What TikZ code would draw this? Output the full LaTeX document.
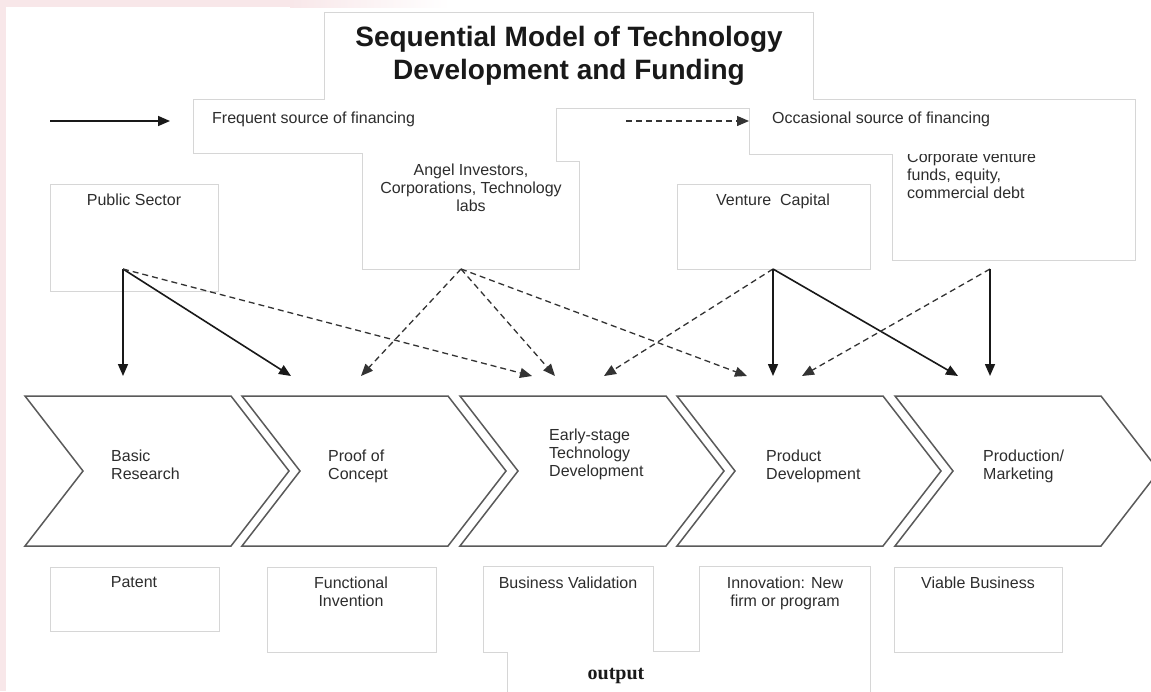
\documentclass[tikz,border=0pt]{standalone}
\usepackage{fontspec}
\setmainfont{Liberation Sans}
\newfontfamily\serifbold{Liberation Serif}
\usetikzlibrary{arrows.meta}

\definecolor{pinkbg}{RGB}{248,231,233}
\definecolor{boxgray}{RGB}{214,214,214}
\definecolor{textgray}{RGB}{45,45,45}
\definecolor{chevgray}{RGB}{90,90,90}

\begin{document}
\begin{tikzpicture}[
        x=1pt, y=-1pt,
        box/.style={
            draw=boxgray,
            line width=1pt,
            fill=white,
        },
        merged/.style={
            draw=boxgray,
            line width=2pt,
        },
        txt/.style={
            font=\fontsize{16}{18}\selectfont,
            text=textgray,
            inner sep=0pt,
        },
        chevron/.style={
            draw=chevgray,
            line width=1.5pt,
            fill=white,
            line join=miter,
        },
        frequent/.style={
            draw=black!90,
            line width=1.6pt,
            -{Triangle[length=12pt,width=10pt]},
        },
        occasional/.style={
            draw=black!80,
            line width=1.3pt,
            dash pattern=on 6pt off 4pt,
            -{Triangle[length=12pt,width=10pt]},
        },
    ]

    \useasboundingbox (0,0) rectangle (1151,691);
    \fill[white] (0,0) rectangle (1151,691);

    % slide background
    \fill[pinkbg] (0,0) rectangle (6,691);
    \fill[pinkbg] (0,0) rectangle (290,7);
    \shade[left color=pinkbg, right color=white] (290,0) rectangle (450,7);

    % top boxes: outlines first, white fills after so they read as one shape
    \draw[merged] (325,13) rectangle (813,100);
    \draw[merged] (194,100) rectangle (749,153);
    \draw[merged] (749,100) rectangle (1135,154);
    \draw[merged] (363,153) rectangle (579,269);
    \draw[merged] (893,154) rectangle (1135,260);
    \fill[white] (325,13) rectangle (813,100);
    \fill[white] (194,100) rectangle (749,153);
    \fill[white] (363,153) rectangle (579,269);
    \fill[white] (893,154) rectangle (1135,260);
    \node (corp) at (907,151.4) [txt, anchor=north west, align=left]
        {Corporate venture\\funds, equity,\\commercial debt};
    \fill[white] (749,100) rectangle (1135,154);
    % box behind the dashed legend arrow
    \fill[white] (556,108) rectangle (749,161);
    \draw[boxgray, line width=1pt] (579,161) -- (556,161) -- (556,108) -- (749,108) -- (749,154);

    \draw[box] (50,184) rectangle (218,291);
    \draw[box] (677,184) rectangle (870,269);

    \node (title) at (569,26) [txt, anchor=north, align=center, text=black!90,
        font=\bfseries\fontsize{28}{33}\selectfont]
        {Sequential Model of Technology\\Development and Funding};

    % legend
    \coordinate (freqA) at (50,121);
    \coordinate (freqB) at (170,121);
    \coordinate (occA) at (626,121);
    \coordinate (occB) at (749,121);
    \draw [frequent] (freqA) -- (freqB);
    \draw [occasional] (occA) -- (occB);
    \node (freqtxt) at (212,111.4) [txt, anchor=north west] {Frequent source of financing};
    \node (occtxt) at (772,111.4) [txt, anchor=north west] {Occasional source of financing};

    % sources of funding
    \node (pub) at (134,193.4) [txt, anchor=north] {Public Sector};
    \node (angel) at (471,163.4) [txt, anchor=north, align=center]
        {Angel Investors,\\Corporations, Technology\\labs};
    \node (vc) at (773,193.4) [txt, anchor=north] {Venture\ \ Capital};

    % stages
    \draw[chevron] (25,396) -- (231,396) -- (289,471) -- (231,546) -- (25,546) -- (83,471) -- cycle;
    \draw[chevron] (242,396) -- (448,396) -- (506,471) -- (448,546) -- (242,546) -- (300,471) -- cycle;
    \draw[chevron] (460,396) -- (666,396) -- (724,471) -- (666,546) -- (460,546) -- (518,471) -- cycle;
    \draw[chevron] (677,396) -- (883,396) -- (941,471) -- (883,546) -- (677,546) -- (735,471) -- cycle;
    \draw[chevron] (895,396) -- (1101,396) -- (1159,471) -- (1101,546) -- (895,546) -- (953,471) -- cycle;

    \node (basic) at (111,449.4) [txt, anchor=north west, align=left] {Basic\\Research};
    \node (proof) at (328,449.4) [txt, anchor=north west, align=left] {Proof of\\Concept};
    \node (early) at (549,428.4) [txt, anchor=north west, align=left] {Early-stage\\Technology\\Development};
    \node (product) at (766,449.4) [txt, anchor=north west, align=left] {Product\\Development};
    \node (market) at (983,449.4) [txt, anchor=north west, align=left] {Production/\\Marketing};

    % outputs
    \draw[box] (50,567) rectangle (219,631);
    \draw[box] (267,567) rectangle (436,652);
    \draw[box] (894,567) rectangle (1062,652);
    \draw[merged] (484,567) rectangle (653,652);
    \draw[merged] (508,652) rectangle (800,700);
    \draw[merged] (700,567) rectangle (870,700);
    \fill[white] (484,567) rectangle (653,652);
    \fill[white] (508,652) rectangle (800,700);
    \fill[white] (700,567) rectangle (870,700);

    \node (patent) at (134,576.4) [txt, anchor=north] {Patent};
    \node (invent) at (351,576.4) [txt, anchor=north, align=center] {Functional\\Invention};
    \node (valid) at (568,576.4) [txt, anchor=north] {Business Validation};
    \node (innov) at (785,576.4) [txt, anchor=north, align=center] {Innovation: New\\firm or program};
    \node (viable) at (978,576.4) [txt, anchor=north] {Viable Business};
    \node (output) at (616,679) [anchor=base, inner sep=0pt, text=black!90,
        font=\serifbold\bfseries\fontsize{20}{24}\selectfont] {output};

    % funding flows
    \coordinate (pubout) at (123,269);
    \coordinate (angelout) at (461,269);
    \coordinate (vcout) at (773,269);
    \coordinate (corpout) at (990,269);

    \coordinate (basicin) at (123,376);
    \coordinate (proofinA) at (291,376);
    \coordinate (proofinB) at (361,376);
    \coordinate (earlyinA) at (532,376);
    \coordinate (earlyinB) at (555,376);
    \coordinate (earlyinC) at (604,376);
    \coordinate (productinA) at (747,376);
    \coordinate (productinB) at (773,376);
    \coordinate (productinC) at (802,376);
    \coordinate (marketinA) at (958,376);
    \coordinate (marketinB) at (990,376);

    \draw [frequent] (pubout) -- (basicin);
    \draw [frequent] (pubout) -- (proofinA);
    \draw [occasional] (pubout) -- (earlyinA);

    \draw [occasional] (angelout) -- (proofinB);
    \draw [occasional] (angelout) -- (earlyinB);
    \draw [occasional] (angelout) -- (productinA);

    \draw [occasional] (vcout) -- (earlyinC);
    \draw [frequent] (vcout) -- (productinB);
    \draw [frequent] (vcout) -- (marketinA);

    \draw [occasional] (corpout) -- (productinC);
    \draw [frequent] (corpout) -- (marketinB);

\end{tikzpicture}
\end{document}
